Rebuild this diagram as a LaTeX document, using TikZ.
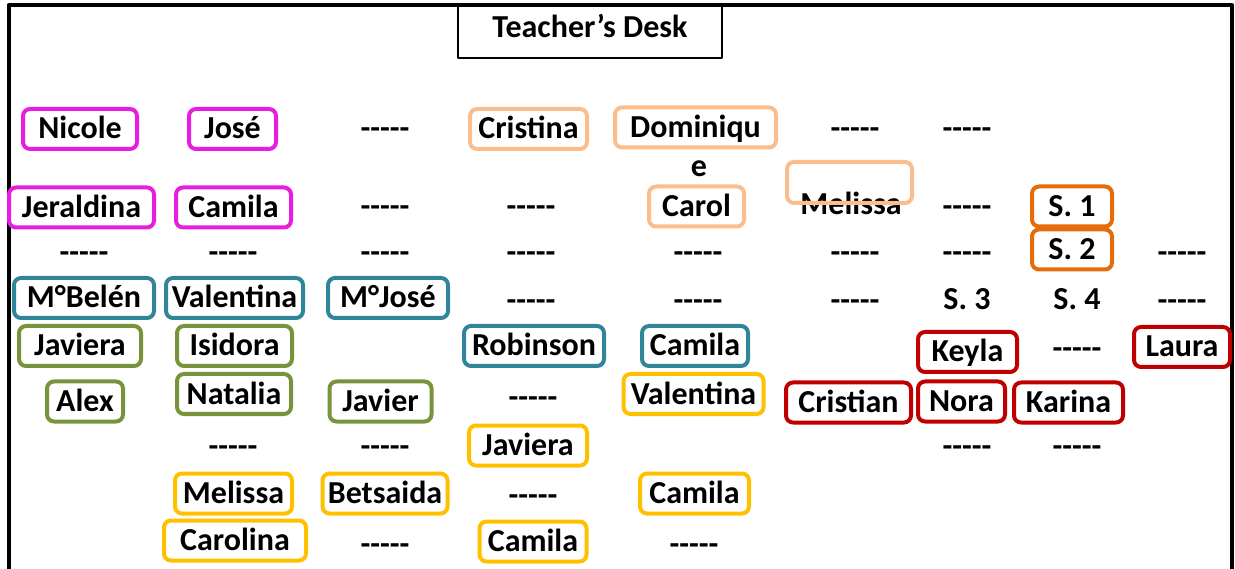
\documentclass[tikz,border=0pt]{standalone}
\usepackage{fontspec}
\setmainfont{Carlito}[Ligatures=TeXOff]
\definecolor{pinkseat}{RGB}{232,30,222}
\definecolor{peachseat}{RGB}{250,190,142}
\definecolor{tealseat}{RGB}{49,133,155}
\definecolor{greenseat}{RGB}{119,147,60}
\definecolor{yellowseat}{RGB}{255,192,0}
\definecolor{redseat}{RGB}{192,0,0}
\definecolor{orangeseat}{RGB}{228,108,10}
\tikzset{
	pupil/.style={inner sep=0pt, text height=20pt, text depth=0pt},
	seat/.style={pupil, draw=#1, line width=4pt, rounded corners=7pt, minimum height=40pt},
	desk/.style={draw, line width=2pt, inner sep=0pt, text height=20pt, text depth=7pt, minimum width=264pt, minimum height=53pt}
}
\begin{document}
\begin{tikzpicture}[x=1pt, y=-1pt, line join=round, font=\fontsize{32}{38}\selectfont\bfseries]
		\useasboundingbox (0,0) rectangle (1235,569);
		\draw[line width=4pt] (8.5,569) -- (8.5,5.5) -- (1232,5.5) -- (1232,569);
		\node[desk] (desk) at (590,31.5) {Teacher’s Desk};
		% seats with a pupil
		\foreach \n/\x/\y/\w/\col/\t in {
			nicole/80/129/114/pinkseat/Nicole, jose/232.5/129/87/pinkseat/José,
			cristina/528.5/129/117/peachseat/Cristina, dominique/695.5/127.5/161/peachseat/Dominiqu,
			jeraldina/81.5/207.5/145/pinkseat/Jeraldina, camilaA/233.5/207.5/115/pinkseat/Camila,
			carol/696.5/206.5/95/peachseat/Carol,
			sOne/1072/206.5/80/orangeseat/S. 1, sTwo/1072/249.5/80/orangeseat/S. 2,
			belen/84/298/140/tealseat/M°Belén, valentinaA/234.5/298/137/tealseat/Valentina,
			mjose/388/298/120/tealseat/M°José,
			javieraA/80/346/122/greenseat/Javiera, isidora/234.5/346/115/greenseat/Isidora,
			robinson/534/346/140/tealseat/Robinson, camilaB/695/346/106/tealseat/Camila,
			keyla/967.5/352/99/redseat/Keyla, laura/1182/347/96/redseat/Laura,
			alex/85/401.5/76/greenseat/Alex, natalia/234/394/114/greenseat/Natalia,
			javier/380.5/401.5/102/greenseat/Javier, valentinaB/693.5/394/140/yellowseat/Valentina,
			cristian/848.5/402.5/125/redseat/Cristian, nora/961.5/401.5/87/redseat/Nora,
			karina/1068.5/402.5/109/redseat/Karina,
			javieraB/528/445.5/118/yellowseat/Javiera,
			melissaB/233.5/493.5/117/yellowseat/Melissa, betsaida/385/493.5/125/yellowseat/Betsaida,
			camilaC/694.5/493.5/109/yellowseat/Camila,
			carolina/235/540.5/142/yellowseat/Carolina, camilaD/533/541.5/107/yellowseat/Camila}{
			\node[seat=\col, minimum width=\w] (\n) at (\x,\y) {\t};
		}
		% empty seats
		\foreach \x/\y [count=\i] in {385/129, 855/129, 967/129, 385/207, 531/207, 967/207,
			84/253, 233/253, 385/253, 531/253, 698/253, 855/253, 967/253, 1182/253,
			531/301, 698/301, 855/301, 1182/301, 1077/349, 533/397,
			233/446, 385/446, 967/446, 1077/446, 533/495, 385/544, 694/544}{
			\node[pupil] (free\i) at (\x,\y) {-----};
		}
		% loose texts
		\node[pupil] (dominiqueTail) at (699,167) {e};
		\node[pupil] (melissaA) at (851,205) {Melissa};
		\node[pupil] (sThree) at (967,300) {S. 3};
		\node[pupil] (sFour) at (1077,300) {S. 4};
		\node[draw=peachseat, line width=4pt, rounded corners=7pt, minimum width=125pt, minimum height=41pt] (melissaBox) at (849.5,182.5) {};
\end{tikzpicture}
\end{document}
